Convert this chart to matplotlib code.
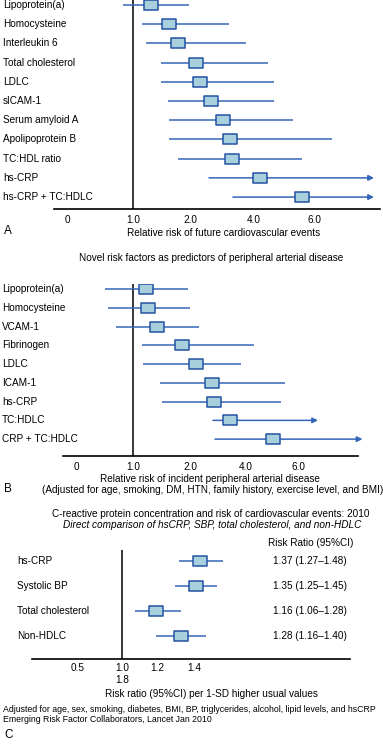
import numpy as np
import matplotlib
matplotlib.use("Agg")
import matplotlib.pyplot as plt
from matplotlib.path import Path
from matplotlib.transforms import blended_transform_factory

plt.rcParams['font.family'] = ['Liberation Sans', 'DejaVu Sans']

# ---- Panel A: future cardiovascular events ----
a_labels = ["Lipoprotein(a)", "Homocysteine", "Interleukin 6", "Total cholesterol",
            "LDLC", "sICAM-1", "Serum amyloid A", "Apolipoprotein B",
            "TC:HDL ratio", "hs-CRP", "hs-CRP + TC:HDLC"]
a_rr = [1.32, 1.63, 1.79, 2.19, 2.31, 2.66, 3.03, 3.25, 3.31, 4.2, 5.6]
a_lo = [0.85, 1.15, 1.23, 1.49, 1.49, 1.61, 1.63, 1.63, 1.79, 2.59, 3.34]
a_hi = [1.98, 3.22, 3.75, 4.47, 4.67, 4.67, 5.3, 6.6, 5.6, 8.0, 8.0]
a_arrow = [False] * 9 + [True, True]
a_ticks = [0, 1, 2, 4, 6]
a_ticklabels = ["0", "1.0", "2.0", "4.0", "6.0"]

# ---- Panel B: peripheral arterial disease ----
b_labels = ["Lipoprotein(a)", "Homocysteine", "VCAM-1", "Fibrinogen", "LDLC",
            "ICAM-1", "hs-CRP", "TC:HDLC", "CRP + TC:HDLC"]
b_rr = [1.23, 1.26, 1.42, 1.86, 2.21, 2.79, 2.86, 3.43, 5.02]
b_lo = [0.51, 0.56, 0.70, 1.16, 1.18, 1.47, 1.51, 2.82, 2.89]
b_hi = [1.96, 2.0, 2.32, 4.3, 3.82, 5.47, 5.32, 6.72, 8.4]
b_arrow = [False] * 7 + [True, True]
b_ticks = [0, 1, 2, 4, 6]
b_ticklabels = ["0", "1.0", "2.0", "4.0", "6.0"]

# ---- Panel C: ERFC 2010 ----
c_labels = ["hs-CRP", "Systolic BP", "Total cholesterol", "Non-HDLC"]
c_rr = [1.37, 1.35, 1.16, 1.28]
c_lo = [1.27, 1.25, 1.06, 1.16]
c_hi = [1.48, 1.45, 1.28, 1.40]
c_ticklabels = ["0.5", "1.0\n1.8", "1.2", "1.4"]

LINE = "#3466b8"
FACE = "#a7cfdc"
EDGE = "#2352a2"
FS = 7.2

W, H = 383, 750
fig = plt.figure(figsize=(W / 100, H / 100), dpi=100)


def px_axes(left, top, right, bottom):
    return fig.add_axes([left / W, 1 - bottom / H, (right - left) / W, (bottom - top) / H])


def piecewise_scale(ax, vals, pos):
    # uneven, hand-drawn style axis: ticks equally spaced regardless of value
    v = np.asarray(vals, float)
    p = np.asarray(pos, float)
    v = np.concatenate([[v[0] - 10], v, [v[-1] + 20]])
    s0 = (p[1] - p[0]) / (v[2] - v[1])
    s1 = (p[-1] - p[-2]) / (v[-2] - v[-3])
    p = np.concatenate([[p[0] - 10 * s0], p, [p[-1] + 20 * s1]])
    ax.set_xscale('function', functions=(lambda x: np.interp(x, v, p),
                                         lambda y: np.interp(y, p, v)))


box = Path([(-1.3, -1), (1.3, -1), (1.3, 1), (-1.3, 1), (-1.3, -1)],
           [Path.MOVETO, Path.LINETO, Path.LINETO, Path.LINETO, Path.CLOSEPOLY])


def forest(ax, labels, rr, lo, hi, arrows, label_x):
    rows = np.arange(len(labels))
    for i in rows:
        if arrows[i]:
            ax.annotate('', xy=(hi[i], i), xytext=(lo[i], i), annotation_clip=False,
                        arrowprops=dict(arrowstyle='-|>', color=LINE, lw=1.1,
                                        mutation_scale=8, shrinkA=0, shrinkB=0))
        else:
            ax.plot([lo[i], hi[i]], [i, i], color=LINE, lw=1.1, solid_capstyle='butt')
    ax.plot(rr, rows, linestyle='none', marker=box, markersize=9.8,
            markerfacecolor=FACE, markeredgecolor=EDGE, markeredgewidth=1.1, zorder=5)
    tr = blended_transform_factory(fig.transFigure, ax.transData)
    for i, lab in enumerate(labels):
        ax.text(label_x / W, i, lab, transform=tr, ha='left', va='center', fontsize=FS)
    for s in ['top', 'left', 'right']:
        ax.spines[s].set_visible(False)
    ax.spines['bottom'].set_linewidth(1.2)
    ax.set_yticks([])
    ax.tick_params(axis='x', length=0, pad=4, labelsize=FS)


# Panel A
axA = px_axes(54, 0, 380, 209)
piecewise_scale(axA, a_ticks, [67, 133, 190, 254, 314])
forest(axA, a_labels, a_rr, a_lo, a_hi, a_arrow, 3)
axA.set_xlim(-0.2, 8.2)
axA.set_ylim(10.62, -0.26)
axA.axvline(1.0, color='black', lw=1.1, zorder=1)
axA.set_xticks(a_ticks, a_ticklabels)
fig.text(224 / W, 1 - 233 / H, "Relative risk of future cardiovascular events",
         ha='center', va='center', fontsize=FS)
fig.text(4 / W, 1 - 231 / H, "A", ha='left', va='center', fontsize=8.5)

# Panel B
fig.text(211 / W, 1 - 258 / H, "Novel risk factors as predictors of peripheral arterial disease",
         ha='center', va='center', fontsize=FS)
axB = px_axes(63, 284, 358, 456)
piecewise_scale(axB, b_ticks, [76, 133, 190, 246, 299])
forest(axB, b_labels, b_rr, b_lo, b_hi, b_arrow, 2)
axB.set_xlim(-0.23, 8.23)
axB.set_ylim(8.9, -0.27)
axB.axvline(1.0, color='black', lw=1.1, zorder=1)
axB.set_xticks(b_ticks, b_ticklabels)
fig.text(210 / W, 1 - 479 / H, "Relative risk of incident peripheral arterial disease",
         ha='center', va='center', fontsize=FS)
fig.text(213 / W, 1 - 490 / H,
         "(Adjusted for age, smoking, DM, HTN, family history, exercise level, and BMI)",
         ha='center', va='center', fontsize=FS)
fig.text(4 / W, 1 - 489 / H, "B", ha='left', va='center', fontsize=8.5)

# Panel C
fig.text(211 / W, 1 - 514 / H,
         "C-reactive protein concentration and risk of cardiovascular events: 2010",
         ha='center', va='center', fontsize=FS)
fig.text(212 / W, 1 - 525 / H,
         "Direct comparison of hsCRP, SBP, total cholesterol, and non-HDLC",
         ha='center', va='center', fontsize=FS, style='italic')
axC = px_axes(32, 550, 350, 659)
forest(axC, c_labels, c_rr, c_lo, c_hi, [False] * 4, 17)
axC.set_xlim(0.571, 2.086)
axC.set_ylim(3.92, -0.44)
axC.axvline(1.0, color='black', lw=1.1, zorder=1)
# tick labels sit where the original artwork puts them
axC.set_xticks([0.786, 1.0, 1.167, 1.343], c_ticklabels)
axC.tick_params(axis='x', pad=3)
fig.text(268 / W, 1 - 543 / H, "Risk Ratio (95%CI)", ha='left', va='center', fontsize=FS)
trC = blended_transform_factory(fig.transFigure, axC.transData)
for i in range(len(c_labels)):
    axC.text(273 / W, i, f"{c_rr[i]:.2f} ({c_lo[i]:.2f}\u2013{c_hi[i]:.2f})",
             transform=trC, ha='left', va='center', fontsize=FS)
fig.text(211 / W, 1 - 694 / H, "Risk ratio (95%CI) per 1-SD higher usual values",
         ha='center', va='center', fontsize=FS)
fig.text(3 / W, 1 - 710 / H,
         "Adjusted for age, sex, smoking, diabetes, BMI, BP, triglycerides, alcohol, lipid levels, and hsCRP",
         ha='left', va='center', fontsize=6.35)
fig.text(3 / W, 1 - 719.5 / H, "Emerging Risk Factor Collaborators, Lancet Jan 2010",
         ha='left', va='center', fontsize=6.35)
fig.text(4 / W, 1 - 735 / H, "C", ha='left', va='center', fontsize=8.5)

fig.savefig("out.png", dpi=100)
